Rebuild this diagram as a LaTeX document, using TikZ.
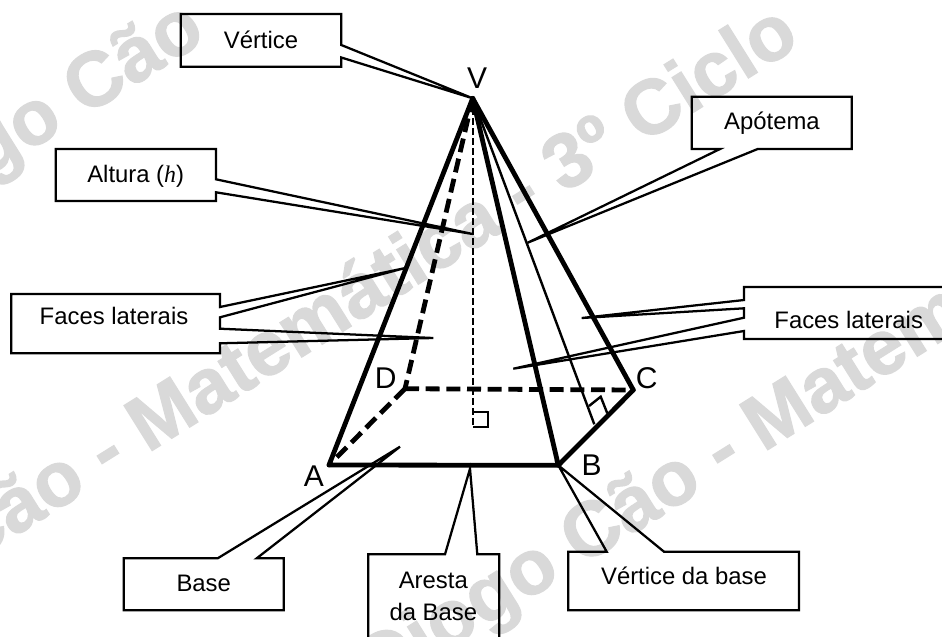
\documentclass[tikz,border=0pt]{standalone}
\usepackage{fontspec}
\setmainfont{Liberation Sans}
\newfontfamily\serifit{Liberation Serif}
\newfontfamily\wmfont[FakeBold=1.5]{Liberation Sans Bold}
\usepackage{xcolor}
\definecolor{wmgray}{HTML}{D9D9D9}

\begin{document}
\begin{tikzpicture}[
    x=0.75pt,
    y=-0.75pt,
    wmark/.style={anchor=base west, rotate=32, text=wmgray, inner sep=0pt, font=\fontsize{58}{58}\selectfont\wmfont},
    boxtext/.style={anchor=base, inner sep=0pt, font=\fontsize{17.9}{24}\selectfont},
    vertexlabel/.style={anchor=base, inner sep=0pt, font=\fontsize{22.5}{27}\selectfont},
    callout/.style={draw, line width=1.7pt, line join=miter},
    edge/.style={line width=3.6pt, line cap=round},
    hidden/.style={line width=3.6pt, dash pattern=on 10.5pt off 5pt},
    thinline/.style={line width=1.8pt},
    heightline/.style={line width=1.7pt, dash pattern=on 5pt off 2.5pt}
]
    \useasboundingbox (0,0) rectangle (942,636);

    % Watermark
    \node[wmark] (wm_a) at (-120,244.4) {Diogo Cão};
    \node[wmark] (wm_b) at (-238.6,694.8) {Diogo Cão - Matemática - 3º Ciclo};
    \node[wmark] (wm_c) at (377,694) {Diogo Cão - Matem};

    % Pyramid vertices
    \coordinate (V) at (472.7,98.3);
    \coordinate (A) at (329,465);
    \coordinate (B) at (558.3,465.3);
    \coordinate (C) at (633.3,390);
    \coordinate (D) at (405,388.7);
    \coordinate (H) at (472.7,427);
    \coordinate (M) at (594.3,424.3);

    % Hidden edges
    \draw[hidden] (V) -- (D);
    \draw[hidden] (D) -- (A);
    \draw[hidden] (D) -- (C);

    % Height and apothem
    \draw[heightline] (V) -- (H);
    \draw[thinline] (V) -- (M);
    \draw[thinline] (472.7,412) -- (487.7,412) -- (487.7,427) -- (H);
    \draw[thinline] (589,406) -- (600.7,396.7) -- (607.3,413.3);

    % Visible edges
    \draw[edge] (V) -- (A);
    \draw[edge] (V) -- (B);
    \draw[edge] (V) -- (C);
    \draw[edge] (A) -- (B) -- (C);

    % Vertex labels
    \node[vertexlabel] (lV) at (477,88) {V};
    \node[vertexlabel] (lA) at (314,486) {A};
    \node[vertexlabel] (lB) at (591.7,475.3) {B};
    \node[vertexlabel] (lC) at (646.7,388.3) {C};
    \node[vertexlabel] (lD) at (385.7,388.3) {D};

    % Callout tips
    \coordinate (tip_h) at (472.7,234);
    \coordinate (tip_fa) at (404,268.3);
    \coordinate (tip_fb) at (433.3,338);
    \coordinate (tip_ap) at (527.7,242.7);
    \coordinate (tip_fc) at (581.7,318);
    \coordinate (tip_fd) at (513.3,368.7);
    \coordinate (tip_base) at (400,446.7);
    \coordinate (tip_ar) at (470,468.7);

    % Callouts
    \node[boxtext] (vertice) at (261,48.3) {Vértice};
    \draw[callout] (180.7,14) -- (341.3,14) -- (341.3,45) -- (V) -- (341.3,57.5) -- (341.3,66.7) -- (180.7,66.7) -- cycle;

    \node[boxtext] (altura) at (135.7,182.7) {Altura ({\serifit\itshape h})};
    \draw[callout] (55.7,149) -- (216,149) -- (216,179.3) -- (tip_h) -- (216,192.3) -- (216,201) -- (55.7,201) -- cycle;

    \node[boxtext] (faces_l) at (114,324.3) {Faces laterais};
    \draw[callout] (11.3,294) -- (220,294) -- (220,307) -- (tip_fa) -- (220,317.3) -- (220,328.7) -- (tip_fb) -- (220,343.3) -- (220,353.3) -- (11.3,353.3) -- cycle;

    \node[boxtext] (apotema) at (772,129.3) {Apótema};
    \draw[callout] (691.7,96.7) -- (851.7,96.7) -- (851.7,149) -- (757.7,149) -- (tip_ap) -- (720,149) -- (691.7,149) -- cycle;

    \node[boxtext] (faces_r) at (848.7,328.7) {Faces laterais};
    \draw[callout] (744,287) -- (948,287) -- (948,339) -- (744,339) -- (744,331) -- (tip_fd) -- (744,317.7) -- (744,308.3) -- (tip_fc) -- (744,300) -- cycle;

    \node[boxtext] (base) at (203.7,591.3) {Base};
    \draw[callout] (123.7,558.3) -- (217.7,558.3) -- (tip_base) -- (256.7,558.3) -- (283.7,558.3) -- (283.7,610.3) -- (123.7,610.3) -- cycle;

    \node[boxtext, align=center, anchor=center] (aresta) at (433.3,596) {Aresta\\da Base};
    \draw[callout] (368.3,640) -- (368.3,554.3) -- (445,554.3) -- (tip_ar) -- (477.3,554.3) -- (499.3,554.3) -- (499.3,640);

    \node[boxtext] (vertice_b) at (684,584.7) {Vértice da base};
    \draw[callout] (568.3,551.7) -- (606.7,551.7) -- (B) -- (664,551.7) -- (799,551.7) -- (799,610.3) -- (568.3,610.3) -- cycle;
\end{tikzpicture}
\end{document}
